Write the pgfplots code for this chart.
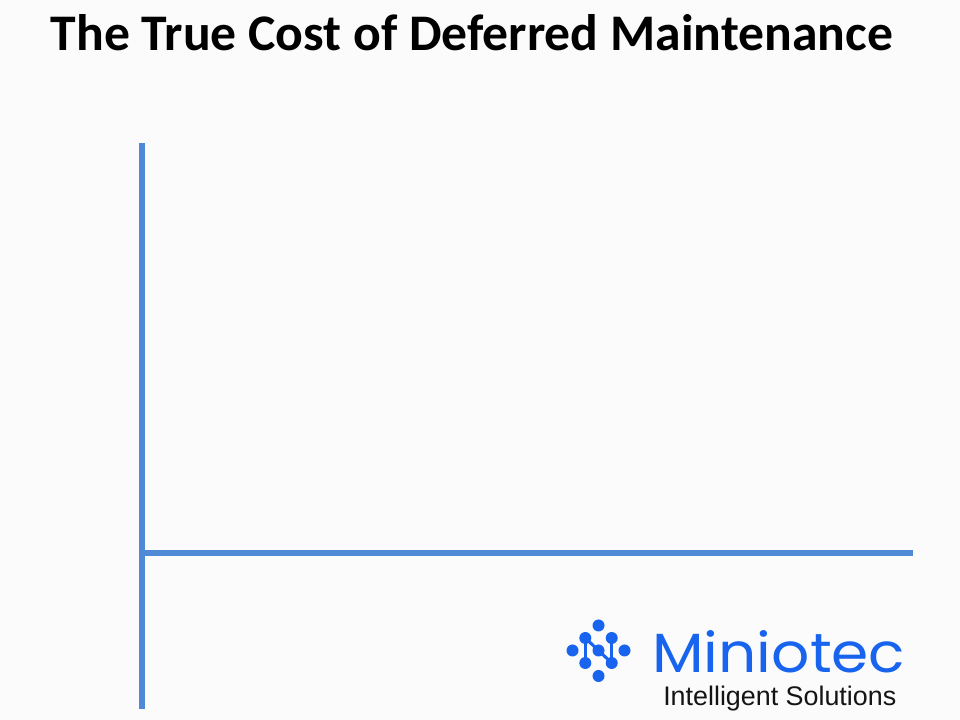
\documentclass[border=0pt]{standalone}
\usepackage{pgfplots}
\pgfplotsset{compat=1.18}
\usepackage{fontspec}
\setmainfont{Liberation Sans}
\newfontfamily\titlefont{Carlito}
\newfontfamily\logofont{Poppins}
\definecolor{bgcol}{RGB}{250,251,250}
\definecolor{axblue}{RGB}{78,138,214}
\definecolor{logoblue}{RGB}{24,100,238}
\definecolor{subgray}{RGB}{20,20,20}
\begin{document}
\begin{tikzpicture}[x=0.75pt,y=0.75pt]
% page background (960 x 720 px)
\fill[bgcol] (0,0) rectangle (960,720);

% empty axes, 1 unit = 1 px
\begin{axis}[
    at={(142,11)}, anchor=south west,
    scale only axis,
    width=578.25pt, height=424.5pt,
    xmin=0, xmax=771,
    ymin=-156, ymax=410,
    axis lines=middle,
    every inner x axis line/.append style={-},
    every inner y axis line/.append style={-},
    axis line style={draw=axblue, line width=4.5pt, line cap=butt},
    xtick=\empty, ytick=\empty,
    clip=false
]
\end{axis}

% title
\node[anchor=base, inner sep=0pt] at (472,669)
    {\resizebox{631.5pt}{27pt}{\titlefont\bfseries The True Cost of Deferred Maintenance}};

% logo icon
\begin{scope}[logoblue]
\draw[line width=2.3pt] (585.3,82) -- (585.3,57);
\draw[line width=2.3pt] (585.3,82) -- (598.5,69.5) -- (611.7,57);
\draw[line width=2.3pt] (611.7,82) -- (611.7,57);
\foreach \p in {(598.5,94.5),(585.3,82),(611.7,82),(572.5,69.5),(598.5,69.5),(624.5,69.5),(585.3,57),(611.7,57),(598.5,44)}
  \fill \p circle (6);
\end{scope}

% logo text
\node[anchor=base west, inner sep=0pt, text=logoblue] at (652,47)
    {\resizebox{189.75pt}{31.5pt}{\logofont Miniotec}};
\node[anchor=base west, inner sep=0pt, text=subgray] at (663,14)
    {\resizebox{174.75pt}{!}{Intelligent Solutions}};
\end{tikzpicture}
\end{document}
